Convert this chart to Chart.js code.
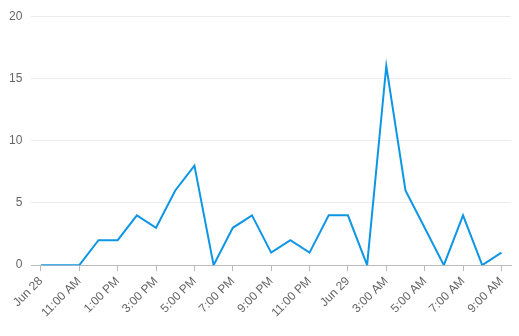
<!DOCTYPE html>
<html>
<head>
<meta charset="utf-8">
<script src="https://cdn.jsdelivr.net/npm/chart.js@4/dist/chart.umd.min.js"></script>
<style>
html,body{margin:0;padding:0;background:#fff;}
#wrap{width:519px;height:336px;position:relative;}
</style>
</head>
<body>
<div id="wrap"><canvas id="c"></canvas></div>
<script>
const hours = ["Jun 28","10:00 AM","11:00 AM","12:00 PM","1:00 PM","2:00 PM","3:00 PM","4:00 PM","5:00 PM","6:00 PM","7:00 PM","8:00 PM","9:00 PM","10:00 PM","11:00 PM","12:00 AM","Jun 29","2:00 AM","3:00 AM","4:00 AM","5:00 AM","6:00 AM","7:00 AM","8:00 AM","9:00 AM"];
const counts = [0,0,0,2,2,4,3,6,8,0,3,4,1,2,1,4,4,0,16,6,3,0,4,0,1];
const yTicks = [0,5,10,15,20];

new Chart(document.getElementById('c'), {
  type: 'line',
  data: {
    labels: hours,
    datasets: [{
      data: counts,
      borderColor: '#0e96e6',
      backgroundColor: '#0e96e6',
      borderWidth: 2,
      pointRadius: 0,
      tension: 0,
      fill: false
    }]
  },
  options: {
    responsive: true,
    maintainAspectRatio: false,
    animation: false,
    layout: { padding: { left: 0, right: 8, top: 16, bottom: 13 } },
    plugins: { legend: { display: false }, tooltip: { enabled: false } },
    scales: {
      x: {
        offset: true,
        afterBuildTicks: (s) => { s.ticks = s.ticks.filter((t, i) => i % 2 === 0); },
        grid: { drawOnChartArea: false, drawTicks: true, tickLength: 6, color: '#bbb' },
        border: { color: '#bbb' },
        ticks: {
          autoSkip: false,
          minRotation: 45, maxRotation: 45,
          color: '#666',
          font: { family: 'Liberation Sans, Arial, sans-serif', size: 12 },
          callback: function(v) { return this.getLabelForValue(v); }
        }
      },
      y: {
        min: 0, max: 20,
        afterBuildTicks: (s) => { s.ticks = yTicks.map(v => ({ value: v })); },
        grid: { color: '#ebebeb', drawTicks: false },
        border: { display: false },
        ticks: {
          padding: 9,
          color: '#666',
          font: { family: 'Liberation Sans, Arial, sans-serif', size: 12 }
        }
      }
    }
  }
});
</script>
</body>
</html>
